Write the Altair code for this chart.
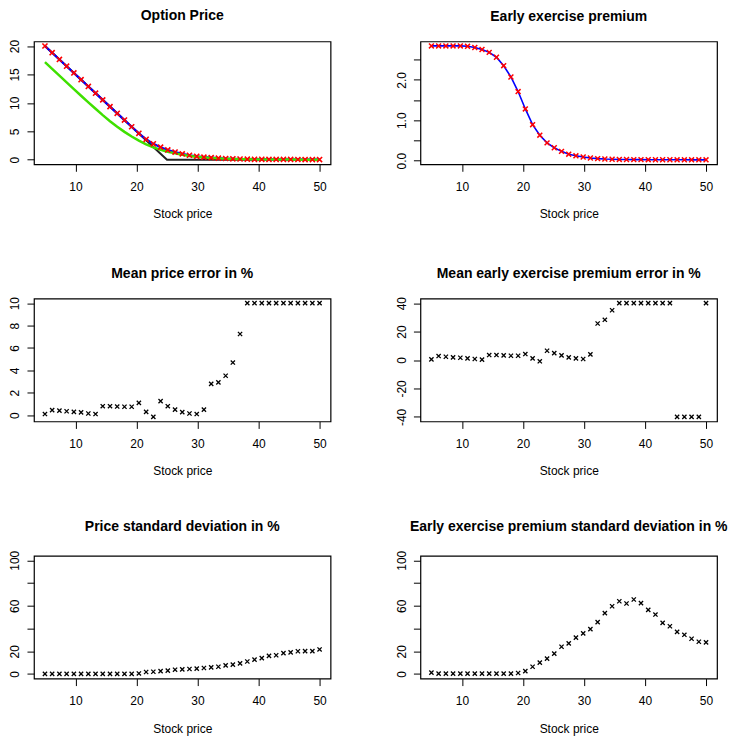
import altair as alt
import pandas as pd

# ---------------- data ----------------
stock_price = [5.00, 6.18, 7.37, 8.55, 9.74, 10.92, 12.11, 13.29, 14.47, 15.66,
               16.84, 18.03, 19.21, 20.39, 21.58, 22.76, 23.95, 25.13, 26.32, 27.50,
               28.68, 29.87, 31.05, 32.24, 33.42, 34.61, 35.79, 36.97, 38.16, 39.34,
               40.53, 41.71, 42.89, 44.08, 45.26, 46.45, 47.63, 48.82, 50.00]

american_price = [20.00, 18.82, 17.63, 16.45, 15.26, 14.08, 12.89, 11.71, 10.53, 9.34,
                  8.16, 6.97, 5.80, 4.65, 3.60, 2.80, 2.20, 1.72, 1.35, 1.03,
                  0.79, 0.60, 0.46, 0.36, 0.28, 0.22, 0.17, 0.13, 0.10, 0.08,
                  0.07, 0.06, 0.055, 0.05, 0.045, 0.04, 0.038, 0.035, 0.033]

european_price = [17.16, 15.98, 14.79, 13.61, 12.42, 11.25, 10.09, 8.96, 7.85, 6.78,
                  5.81, 4.90, 4.09, 3.37, 2.71, 2.17, 1.76, 1.40, 1.12, 0.87,
                  0.67, 0.51, 0.40, 0.31, 0.24, 0.185, 0.14, 0.10, 0.075, 0.055,
                  0.046, 0.037, 0.033, 0.028, 0.024, 0.019, 0.018, 0.015, 0.013]

early_premium = [2.84, 2.84, 2.84, 2.84, 2.84, 2.83, 2.80, 2.75, 2.68, 2.56,
                 2.35, 2.07, 1.71, 1.28, 0.89, 0.63, 0.44, 0.32, 0.23, 0.16,
                 0.12, 0.09, 0.065, 0.05, 0.04, 0.035, 0.03, 0.028, 0.026, 0.025,
                 0.024, 0.023, 0.022, 0.022, 0.021, 0.021, 0.02, 0.02, 0.02]

mean_price_err = [0.1, 0.45, 0.4, 0.35, 0.3, 0.25, 0.15, 0.1, 0.8, 0.8,
                  0.77, 0.75, 0.75, 1.1, 0.3, -0.15, 1.25, 0.8, 0.5, 0.27,
                  0.15, 0.1, 0.5, 2.8, 2.93, 3.52, 4.7, 7.25, 10, 10,
                  10, 10, 10, 10, 10, 10, 10, 10, 10]

mean_premium_err = [0.5, 2.8, 2.3, 1.9, 1.6, 1.2, 0.7, 0.3, 3.5, 3.5,
                    3.3, 3.0, 3.0, 4.2, 1.2, -0.9, 6.5, 4.9, 3.3, 1.9,
                    1.2, 0.7, 4.0, 25.7, 28.3, 35, 40, 40, 40, 40,
                    40, 40, 40, 40, -40, -40, -40, -40, 40]

price_sd = [0.2, 0.2, 0.2, 0.2, 0.2, 0.2, 0.2, 0.2, 0.2, 0.2,
            0.2, 0.2, 0.2, 0.5, 1.8, 2.0, 2.6, 3.0, 3.8, 4.1,
            4.4, 4.7, 5.3, 5.8, 6.4, 7.6, 8.2, 9.4, 11.0, 12.6,
            14.0, 16.0, 16.5, 18.4, 19.0, 20.0, 20.2, 20.2, 21.6]

premium_sd = [1.2, 0.3, 0.3, 0.3, 0.3, 0.3, 0.3, 0.3, 0.3, 0.3,
              0.3, 0.3, 0.9, 2.6, 6.4, 10.0, 13.5, 18.0, 24.0, 27.0,
              32.0, 35.7, 39.5, 45.6, 53.5, 59.6, 64.0, 62.0, 65.5, 62.3,
              56.4, 52.3, 45.0, 42.0, 37.0, 34.5, 31.0, 28.4, 27.8]

payoff_x = [5, 25, 50]
payoff_y = [20, 0, 0]

x_ticks = [10, 20, 30, 40, 50]
price_ticks = [0, 5, 10, 15, 20]
premium_ticks = [0, 0.5, 1, 1.5, 2, 2.5]
mpe_ticks = [0, 2, 4, 6, 8, 10]
meepe_ticks = [-40, -20, 0, 20, 40]
sd_ticks = [0, 20, 40, 60, 80, 100]

df = pd.DataFrame({
    "x": stock_price,
    "american": american_price,
    "european": european_price,
    "premium": early_premium,
    "mpe": mean_price_err,
    "meepe": mean_premium_err,
    "psd": price_sd,
    "eepsd": premium_sd,
})
payoff = pd.DataFrame({"x": payoff_x, "y": payoff_y})

# ---------------- styling ----------------
FONT = "Liberation Sans"
W, H = 297, 123
XDOM = [3.2, 51.8]
CROSS = "M-1,-1L1,1M-1,1L1,-1"
PLAIN = "'' + datum.value"


def xenc():
    return alt.X("x:Q", scale=alt.Scale(domain=XDOM, nice=False, zero=False),
                 axis=alt.Axis(values=x_ticks, title="Stock price"))


def yenc(field, dom, ticks, expr=PLAIN):
    return alt.Y(f"{field}:Q", scale=alt.Scale(domain=dom, nice=False, zero=False),
                 axis=alt.Axis(values=ticks, labelExpr=expr, title=None))


def ttl(text):
    return alt.TitleParams(text, fontSize=14, fontWeight="bold", font=FONT,
                           offset=16, color="black", anchor="middle")


def crosses(data, field, dom, ticks, color="black", size=18, sw=1.3, expr=PLAIN):
    return alt.Chart(data).mark_point(
        shape=CROSS, filled=False, size=size, strokeWidth=sw, color=color, opacity=1
    ).encode(x=xenc(), y=yenc(field, dom, ticks, expr))


# ---------------- panel 1: option price ----------------
PDOM = [-0.8, 20.8]
p_payoff = alt.Chart(payoff).mark_line(color="#222222", strokeWidth=2).encode(
    x=xenc(), y=yenc("y", PDOM, price_ticks))
p_amer = alt.Chart(df).mark_line(color="#0000FF", strokeWidth=2.2).encode(
    x=xenc(), y=yenc("american", PDOM, price_ticks))
p_euro = alt.Chart(df).mark_line(color="#3FE000", strokeWidth=2.5).encode(
    x=xenc(), y=yenc("european", PDOM, price_ticks))
p_pts = crosses(df, "american", PDOM, price_ticks, color="#FF0000", size=26, sw=1.6)
panel1 = alt.layer(p_payoff, p_amer, p_euro, p_pts).properties(
    width=W, height=H, title=ttl("Option Price"))

# ---------------- panel 2: early exercise premium ----------------
EDOM = [-0.09, 2.95]
EEXPR = "datum.value % 1 == 0 ? format(datum.value, '.1f') : ''"
e_line = alt.Chart(df).mark_line(color="#0000FF", strokeWidth=1.6).encode(
    x=xenc(), y=yenc("premium", EDOM, premium_ticks, EEXPR))
e_pts = crosses(df, "premium", EDOM, premium_ticks, color="#FF0000", size=24, sw=1.5, expr=EEXPR)
panel2 = alt.layer(e_line, e_pts).properties(
    width=W, height=H, title=ttl("Early exercise premium"))

# ---------------- panels 3-6 ----------------
panel3 = crosses(df, "mpe", [-0.56, 10.41], mpe_ticks).properties(
    width=W, height=H, title=ttl("Mean price error in %"))
panel4 = crosses(df, "meepe", [-43.2, 43.2], meepe_ticks).properties(
    width=W, height=H, title=ttl("Mean early exercise premium error in %"))
SDEXPR = "datum.value == 40 || datum.value == 80 ? '' : '' + datum.value"
panel5 = crosses(df, "psd", [-4, 104], sd_ticks, expr=SDEXPR).properties(
    width=W, height=H, title=ttl("Price standard deviation in %"))
panel6 = crosses(df, "eepsd", [-4, 104], sd_ticks, expr=SDEXPR).properties(
    width=W, height=H, title=ttl("Early exercise premium standard deviation in %"))

chart = alt.concat(
    panel1, panel2, panel3, panel4, panel5, panel6,
    columns=2, spacing={"row": 134.5, "column": 90}, bounds="flush",
).properties(
    padding=0, background="white"
).configure_view(
    stroke="black", strokeWidth=1.2
).configure_axis(
    domain=False, grid=False, ticks=True, tickColor="black", tickSize=7, tickWidth=1,
    labelFont=FONT, labelFontSize=12, labelColor="black", labelOverlap=False,
    labelFlush=False,
    titleFont=FONT, titleFontSize=12, titleFontWeight="normal", titleColor="black",
).configure_axisX(
    labelPadding=10, titlePadding=16.5, labelAngle=0,
).configure_axisY(
    labelAngle=270, labelAlign="center", labelBaseline="bottom", labelPadding=5,
)

chart.save("out.html", embed_options={"renderer": "svg", "actions": False})
